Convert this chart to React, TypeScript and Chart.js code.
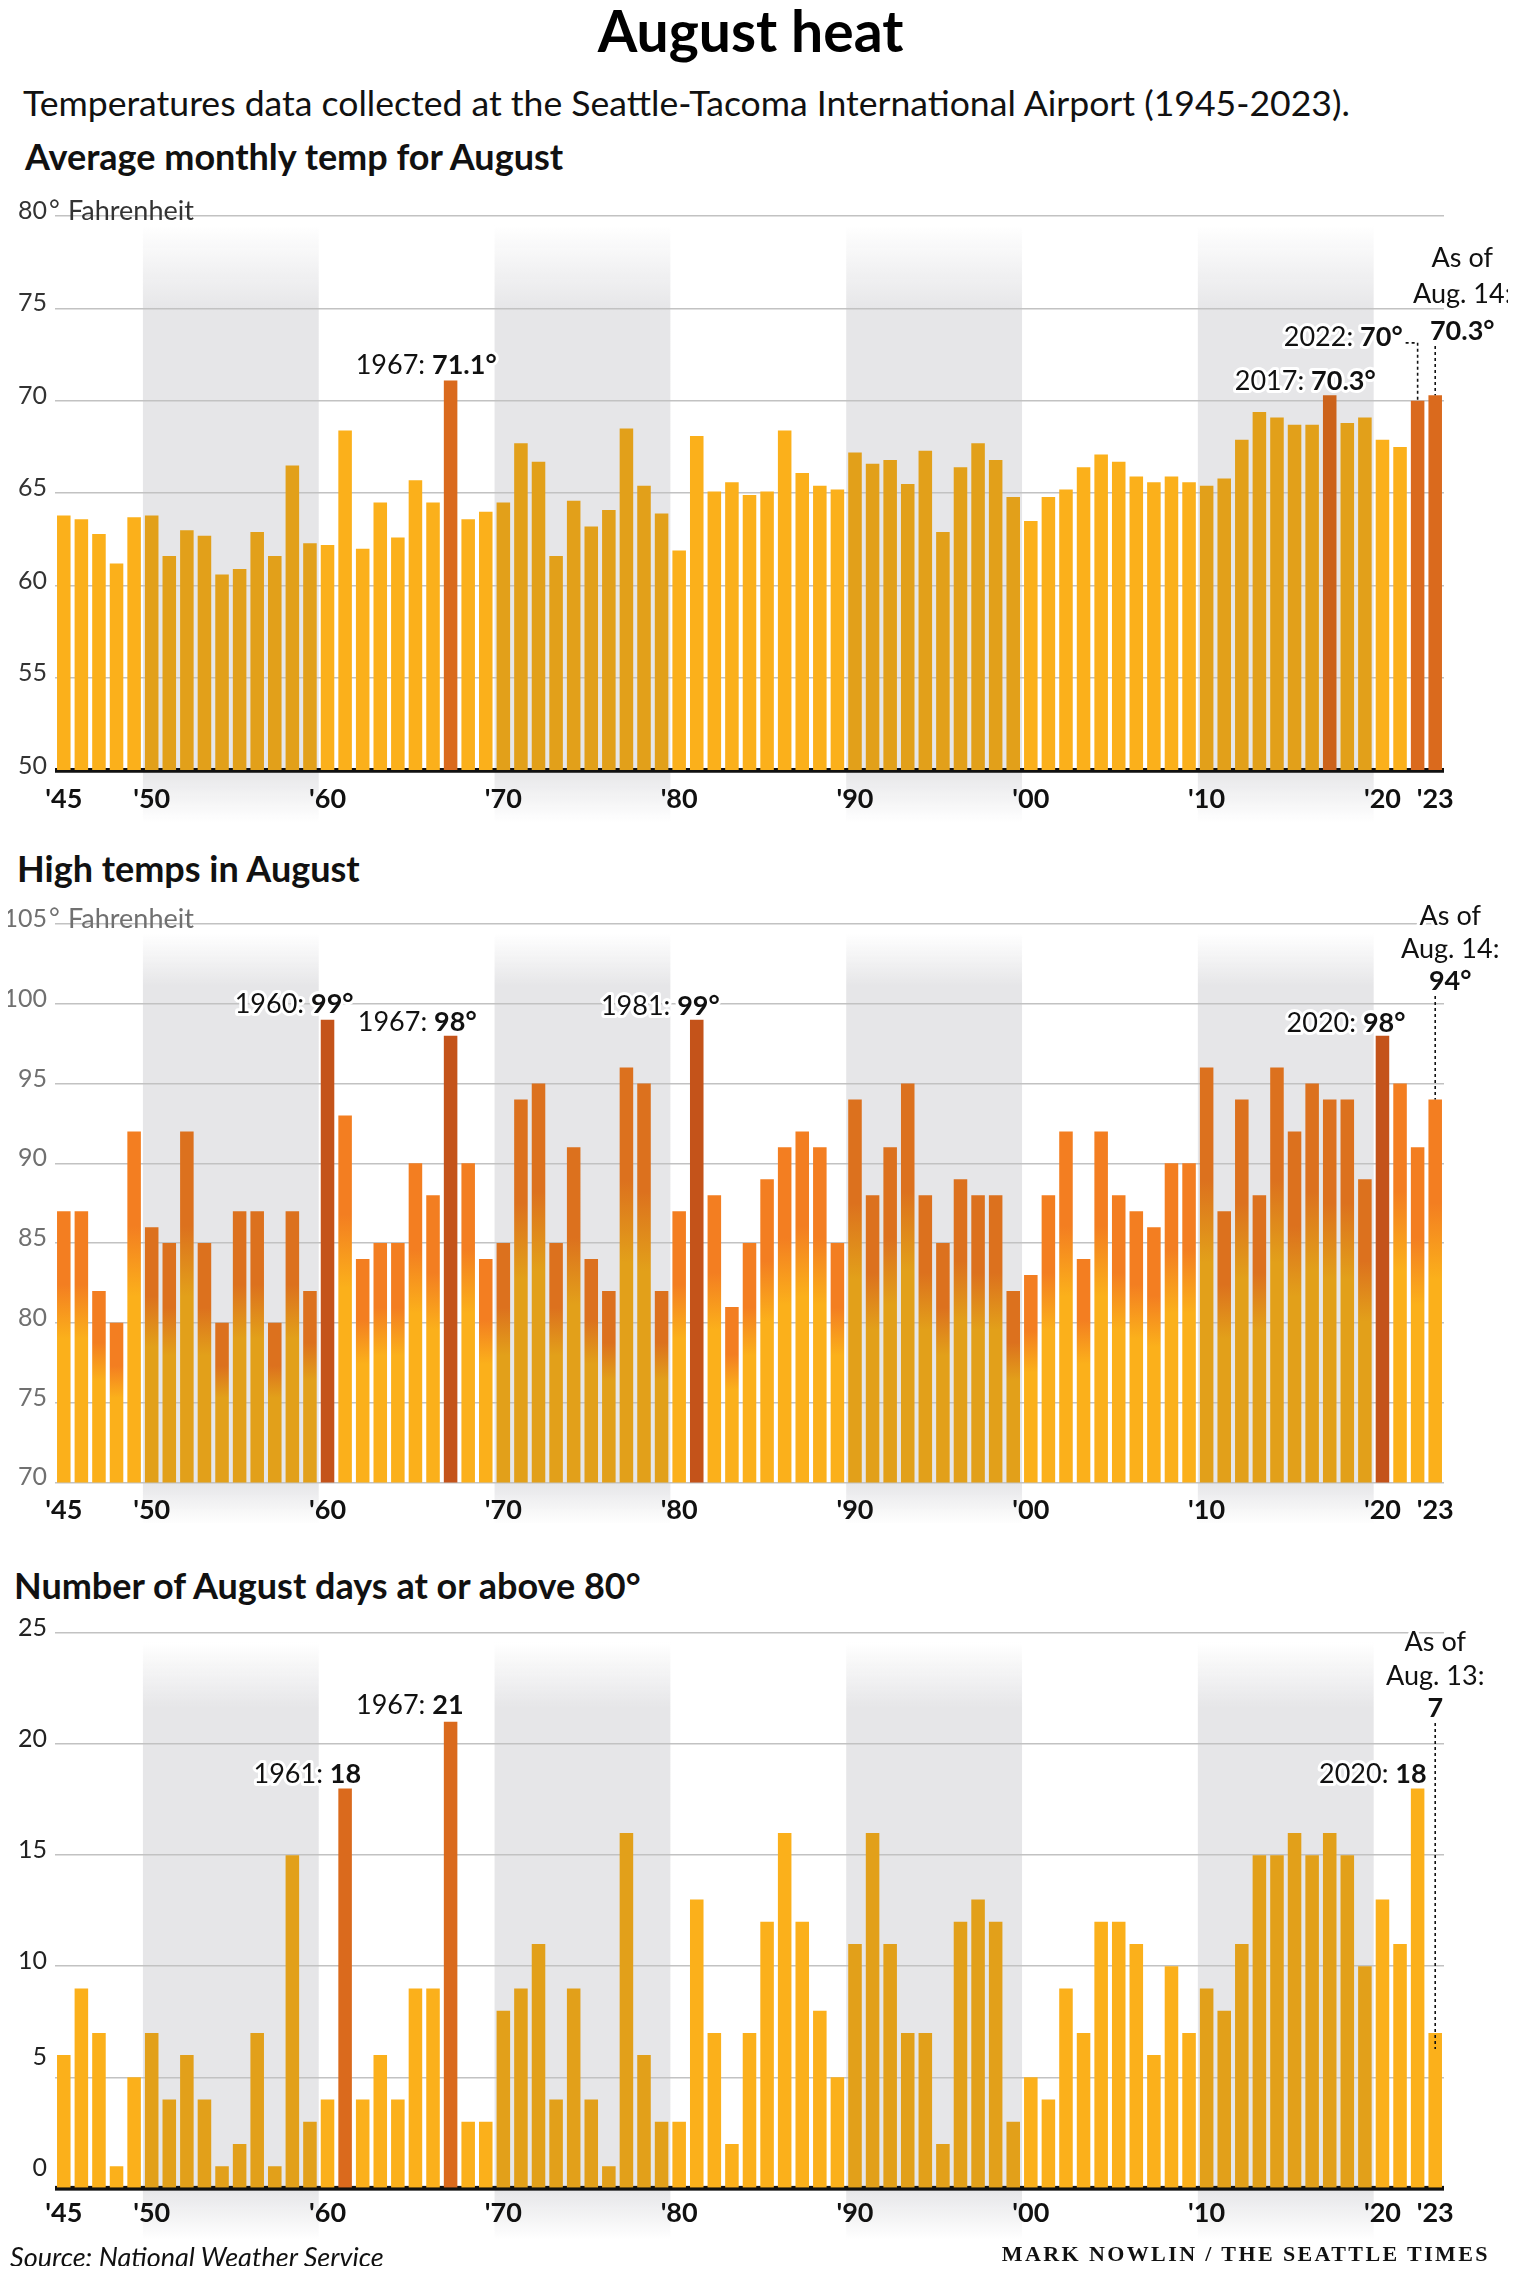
import React, { useEffect, useRef } from "react";
import { Chart, registerables } from "chart.js";

Chart.register(...registerables);

const FONT = 'Lato, "Noto Sans", "DejaVu Sans", sans-serif';
const W = 1516;

// ---------- DATA ----------
const YEARS = [
  1945, 1946, 1947, 1948, 1949,
  1950, 1951, 1952, 1953, 1954, 1955, 1956, 1957, 1958, 1959,
  1960, 1961, 1962, 1963, 1964, 1965, 1966, 1967, 1968, 1969,
  1970, 1971, 1972, 1973, 1974, 1975, 1976, 1977, 1978, 1979,
  1980, 1981, 1982, 1983, 1984, 1985, 1986, 1987, 1988, 1989,
  1990, 1991, 1992, 1993, 1994, 1995, 1996, 1997, 1998, 1999,
  2000, 2001, 2002, 2003, 2004, 2005, 2006, 2007, 2008, 2009,
  2010, 2011, 2012, 2013, 2014, 2015, 2016, 2017, 2018, 2019,
  2020, 2021, 2022, 2023,
];

// Average monthly temperature for August (°F)
const AVG_TEMP = [
  63.8, 63.6, 62.8, 61.2, 63.7,
  63.8, 61.6, 63.0, 62.7, 60.6, 60.9, 62.9, 61.6, 66.5, 62.3,
  62.2, 68.4, 62.0, 64.5, 62.6, 65.7, 64.5, 71.1, 63.6, 64.0,
  64.5, 67.7, 66.7, 61.6, 64.6, 63.2, 64.1, 68.5, 65.4, 63.9,
  61.9, 68.1, 65.1, 65.6, 64.9, 65.1, 68.4, 66.1, 65.4, 65.2,
  67.2, 66.6, 66.8, 65.5, 67.3, 62.9, 66.4, 67.7, 66.8, 64.8,
  63.5, 64.8, 65.2, 66.4, 67.1, 66.7, 65.9, 65.6, 65.9, 65.6,
  65.4, 65.8, 67.9, 69.4, 69.1, 68.7, 68.7, 70.3, 68.8, 69.1,
  67.9, 67.5, 70.0, 70.3,
];

// High temperature in August (°F)
const HIGH_TEMP = [
  87, 87, 82, 80, 92,
  86, 85, 92, 85, 80, 87, 87, 80, 87, 82,
  99, 93, 84, 85, 85, 90, 88, 98, 90, 84,
  85, 94, 95, 85, 91, 84, 82, 96, 95, 82,
  87, 99, 88, 81, 85, 89, 91, 92, 91, 85,
  94, 88, 91, 95, 88, 85, 89, 88, 88, 82,
  83, 88, 92, 84, 92, 88, 87, 86, 90, 90,
  96, 87, 94, 88, 96, 92, 95, 94, 94, 89,
  98, 95, 91, 94,
];

// Number of August days at or above 80°
const HOT_DAYS = [
  6, 9, 7, 1, 5,
  7, 4, 6, 4, 1, 2, 7, 1, 15, 3,
  4, 18, 4, 6, 4, 9, 9, 21, 3, 3,
  8, 9, 11, 4, 9, 4, 1, 16, 6, 3,
  3, 13, 7, 2, 7, 12, 16, 12, 8, 5,
  11, 16, 11, 7, 7, 2, 12, 13, 12, 3,
  5, 4, 9, 7, 12, 12, 11, 6, 10, 7,
  9, 8, 11, 15, 15, 16, 15, 16, 15, 10,
  13, 11, 18, 7,
];

const TICK_YEARS = [1945, 1950, 1960, 1970, 1980, 1990, 2000, 2010, 2020, 2023];
const TICK_TEXT = ["'45", "'50", "'60", "'70", "'80", "'90", "'00", "'10", "'20", "'23"];

const BAND_RANGES = [
  [1950, 1959],
  [1970, 1979],
  [1990, 1999],
  [2010, 2019],
];

const AVG_HIGHLIGHT = [1967, 2017, 2022, 2023];
const HIGH_HIGHLIGHT = [1960, 1967, 1981, 2020];
const DAYS_HIGHLIGHT = [1961, 1967];

// y tick values that sit raised above their gridline in the days chart
const DAYS_RAISED_TICKS = [0, 5];

// ---------- STYLE ----------
const YELLOW = "#FBB01B";
const YELLOW_B = "#E2A01A";
const ORANGE = "#F37E21";
const ORANGE_B = "#DC711E";
const HL_A = "#DA6A1D";
const HL_A_B = "#CC631B";
const HL_H = "#C4531A";
const BAND_RGB = "230,230,232";

const inBand = (year: number) => BAND_RANGES.some(([s, e]) => year >= s && year <= e);

const flatColors = (hl: number[]) =>
  YEARS.map((y) => {
    const b = inBand(y);
    if (hl.includes(y)) return b ? HL_A_B : HL_A;
    return b ? YELLOW_B : YELLOW;
  });

const highColor = (ctx: any) => {
  const i = ctx.dataIndex;
  if (i === undefined) return ORANGE;
  const year = YEARS[i];
  if (HIGH_HIGHLIGHT.includes(year)) return HL_H;
  const b = inBand(year);
  const top = b ? ORANGE_B : ORANGE;
  const bot = b ? YELLOW_B : YELLOW;
  const chart = ctx.chart;
  const y = chart.scales && chart.scales.y;
  if (!chart.chartArea || !y) return top;
  const pt = y.getPixelForValue(HIGH_TEMP[i]);
  const pb = y.getPixelForValue(y.min);
  if (!isFinite(pt) || !isFinite(pb) || pb - pt < 1) return top;
  const g = chart.ctx.createLinearGradient(0, pt, 0, pb);
  g.addColorStop(0, top);
  g.addColorStop(0.27, top);
  g.addColorStop(0.47, bot);
  g.addColorStop(1, bot);
  return g;
};

type Note = { year: number; prefix: string; bold: string; dx: number; dy: number; leader?: boolean };
type AsOf = { year: number; lines: string[]; bold: string; cx: number; baselines: number[]; leaderExtra: number };
type Decor = {
  fadeTop: number;
  fadeBottom: number;
  blackAxis: boolean;
  unit: boolean;
  tickColor: string;
  raised: number[];
  notes: Note[];
  asOf: AsOf;
};

const ANN_SIZE = 27;

function drawRich(ctx: CanvasRenderingContext2D, parts: { t: string; b: boolean }[], x: number, base: number, align: string) {
  const fonts = parts.map((p) => `${p.b ? "bold " : ""}${ANN_SIZE}px ${FONT}`);
  const widths = parts.map((p, i) => {
    ctx.font = fonts[i];
    return ctx.measureText(p.t).width;
  });
  const total = widths.reduce((a, b) => a + b, 0);
  const start = align === "right" ? x - total : align === "center" ? x - total / 2 : x;
  ctx.textAlign = "left";
  ctx.textBaseline = "alphabetic";
  ctx.lineJoin = "round";
  ctx.strokeStyle = "#fff";
  ctx.lineWidth = 6;
  let cx = start;
  parts.forEach((p, i) => {
    ctx.font = fonts[i];
    ctx.strokeText(p.t, cx, base);
    cx += widths[i];
  });
  ctx.fillStyle = "#111";
  cx = start;
  parts.forEach((p, i) => {
    ctx.font = fonts[i];
    ctx.fillText(p.t, cx, base);
    cx += widths[i];
  });
  return { left: start, right: start + total };
}

function dotted(ctx: CanvasRenderingContext2D, pts: number[][]) {
  ctx.save();
  ctx.strokeStyle = "#111";
  ctx.lineWidth = 1.6;
  ctx.setLineDash([3, 3]);
  ctx.beginPath();
  ctx.moveTo(pts[0][0], pts[0][1]);
  for (let k = 1; k < pts.length; k++) ctx.lineTo(pts[k][0], pts[k][1]);
  ctx.stroke();
  ctx.restore();
}

function makeDecor(decor: Decor, values: number[]) {
  return {
    id: "decor",
    beforeDraw(chart: any) {
      const { ctx, chartArea: a } = chart;
      const x = chart.scales.x;
      const pitch = x.getPixelForValue(1) - x.getPixelForValue(0);
      const H = a.bottom + decor.fadeBottom - a.top;
      ctx.save();
      for (const [s, e] of BAND_RANGES) {
        const x0 = x.getPixelForValue(YEARS.indexOf(s)) - pitch / 2;
        const x1 = x.getPixelForValue(YEARS.indexOf(e)) + pitch / 2;
        const g = ctx.createLinearGradient(0, a.top, 0, a.top + H);
        g.addColorStop(0, `rgba(${BAND_RGB},0)`);
        g.addColorStop(0.015, `rgba(${BAND_RGB},0)`);
        g.addColorStop(decor.fadeTop / H, `rgba(${BAND_RGB},1)`);
        g.addColorStop((a.bottom - a.top) / H, `rgba(${BAND_RGB},1)`);
        g.addColorStop(1, `rgba(${BAND_RGB},0)`);
        ctx.fillStyle = g;
        ctx.fillRect(x0, a.top, x1 - x0, H);
      }
      ctx.restore();
    },
    beforeDatasetsDraw(chart: any) {
      if (!decor.blackAxis) return;
      const { ctx, chartArea: a } = chart;
      ctx.save();
      ctx.fillStyle = "#111";
      ctx.fillRect(a.left, a.bottom - 2.5, a.right - a.left, 4.5);
      ctx.restore();
    },
    afterDatasetsDraw(chart: any) {
      const { ctx, chartArea: a } = chart;
      const x = chart.scales.x;
      const y = chart.scales.y;
      ctx.save();
      if (decor.blackAxis) {
        ctx.fillStyle = "#111";
        ctx.fillRect(a.left, a.bottom - 0.5, a.right - a.left, 2.5);
      }
      if (decor.unit) {
        const yy = y.getPixelForValue(y.max) - 5;
        ctx.fillStyle = decor.tickColor;
        ctx.textBaseline = "middle";
        ctx.textAlign = "left";
        ctx.font = `26px ${FONT}`;
        ctx.fillText("°", 49, yy);
        ctx.font = `27px ${FONT}`;
        ctx.fillText("Fahrenheit", 68, yy);
      }
      for (const n of decor.notes) {
        const i = YEARS.indexOf(n.year);
        const bx = x.getPixelForValue(i);
        const by = y.getPixelForValue(values[i]);
        const base = by - n.dy;
        const r = drawRich(ctx, [{ t: n.prefix, b: false }, { t: n.bold, b: true }], bx + n.dx, base, "right");
        if (n.leader) {
          dotted(ctx, [
            [r.right + 3, base - 3],
            [bx, base - 3],
            [bx, by],
          ]);
        }
      }
      const ao = decor.asOf;
      const i = YEARS.indexOf(ao.year);
      const bx = x.getPixelForValue(i);
      const by = y.getPixelForValue(values[i]);
      const cx = bx + ao.cx;
      ao.lines.forEach((l, k) => drawRich(ctx, [{ t: l, b: false }], cx, a.top + ao.baselines[k], "center"));
      const lastBase = a.top + ao.baselines[ao.baselines.length - 1];
      drawRich(ctx, [{ t: ao.bold, b: true }], cx, lastBase, "center");
      dotted(ctx, [
        [bx, lastBase + 6],
        [bx, by + ao.leaderExtra],
      ]);
      ctx.restore();
    },
  };
}

type PanelProps = {
  top: number;
  height: number;
  padTop: number;
  xHeight: number;
  xPad: number;
  values: number[];
  colors: any;
  min: number;
  max: number;
  decor: Decor;
};

function Panel(p: PanelProps) {
  const ref = useRef<HTMLCanvasElement>(null);
  useEffect(() => {
    const chart = new Chart(ref.current as HTMLCanvasElement, {
      type: "bar",
      data: {
        labels: YEARS.map(String),
        datasets: [
          {
            data: p.values,
            backgroundColor: p.colors,
            borderWidth: 0,
            barPercentage: 0.77,
            categoryPercentage: 1,
          },
        ],
      },
      options: {
        responsive: false,
        animation: false,
        events: [],
        devicePixelRatio: 1,
        layout: { padding: { top: p.padTop, right: W - 1444, left: 0, bottom: 0 } },
        plugins: { legend: { display: false }, tooltip: { enabled: false } },
        scales: {
          x: {
            type: "category",
            offset: true,
            grid: { display: false },
            border: { display: false },
            ticks: {
              autoSkip: false,
              maxRotation: 0,
              minRotation: 0,
              padding: p.xPad,
              color: "#111",
              font: { family: FONT, size: 27, weight: "bold" },
              callback: (_v: any, idx: number) => {
                const k = TICK_YEARS.indexOf(YEARS[idx]);
                return k >= 0 ? TICK_TEXT[k] : "";
              },
            },
            afterFit: (s: any) => {
              s.height = p.xHeight;
              s.paddingLeft = 0;
              s.paddingRight = 0;
            },
          },
          y: {
            min: p.min,
            max: p.max,
            grid: { color: "#C2C2C2", lineWidth: 1.6, drawTicks: false },
            border: { display: false },
            ticks: {
              stepSize: 5,
              padding: 8,
              labelOffset: -5,
              color: p.decor.tickColor,
              font: { family: FONT, size: 25 },
              callback: (v: any) => (p.decor.raised.includes(v) ? [String(v), " "] : String(v)),
            },
            afterFit: (s: any) => {
              s.width = 55;
              s.paddingTop = 0;
              s.paddingBottom = 0;
            },
          },
        },
      } as any,
      plugins: [makeDecor(p.decor, p.values)],
    } as any);
    return () => chart.destroy();
  }, []);
  return (
    <canvas
      ref={ref}
      width={W}
      height={p.height}
      style={{ position: "absolute", left: 0, top: p.top, width: W, height: p.height, display: "block" }}
    />
  );
}

const avgDecor: Decor = {
  fadeTop: 95,
  fadeBottom: 52,
  blackAxis: true,
  unit: true,
  tickColor: "#333",
  raised: [],
  notes: [
    { year: 1967, prefix: "1967: ", bold: "71.1°", dx: 46, dy: 7 },
    { year: 2017, prefix: "2017: ", bold: "70.3°", dx: 46, dy: 5 },
    { year: 2022, prefix: "2022: ", bold: "70°", dx: -15, dy: 55, leader: true },
  ],
  asOf: { year: 2023, lines: ["As of", "Aug. 14:"], bold: "70.3°", cx: 27, baselines: [51, 87, 124], leaderExtra: 0 },
};

const highDecor: Decor = {
  fadeTop: 62,
  fadeBottom: 42,
  blackAxis: false,
  unit: true,
  tickColor: "#707070",
  raised: [],
  notes: [
    { year: 1960, prefix: "1960: ", bold: "99°", dx: 26, dy: 7 },
    { year: 1967, prefix: "1967: ", bold: "98°", dx: 26, dy: 5 },
    { year: 1981, prefix: "1981: ", bold: "99°", dx: 23, dy: 5 },
    { year: 2020, prefix: "2020: ", bold: "98°", dx: 23, dy: 4 },
  ],
  asOf: { year: 2023, lines: ["As of", "Aug. 14:"], bold: "94°", cx: 15, baselines: [1, 34, 66], leaderExtra: 0 },
};

const daysDecor: Decor = {
  fadeTop: 75,
  fadeBottom: 52,
  blackAxis: true,
  unit: false,
  tickColor: "#222",
  raised: DAYS_RAISED_TICKS,
  notes: [
    { year: 1961, prefix: "1961: ", bold: "18", dx: 16, dy: 6 },
    { year: 1967, prefix: "1967: ", bold: "21", dx: 13, dy: 8 },
    { year: 2022, prefix: "2020: ", bold: "18", dx: 9, dy: 6 },
  ],
  asOf: { year: 2023, lines: ["As of", "Aug. 13:"], bold: "7", cx: 0, baselines: [18, 52, 84], leaderExtra: 16 },
};

const txt = (extra: React.CSSProperties): React.CSSProperties => ({
  position: "absolute",
  margin: 0,
  lineHeight: 1,
  whiteSpace: "nowrap",
  color: "#111",
  fontFamily: FONT,
  ...extra,
});

export default function App() {
  return (
    <div style={{ position: "relative", width: W, height: 2274, margin: -8, background: "#fff", overflow: "hidden" }}>
      <div style={txt({ top: 2, left: 0, width: 1501, textAlign: "center", fontSize: 57, fontWeight: 700, color: "#000" })}>
        August heat
      </div>
      <div style={txt({ top: 85, left: 23, fontSize: 35.6 })}>
        Temperatures data collected at the Seattle-Tacoma International Airport (1945-2023).
      </div>
      <div style={txt({ top: 138, left: 25, fontSize: 36, fontWeight: 700 })}>Average monthly temp for August</div>
      <div style={txt({ top: 850, left: 17, fontSize: 36, fontWeight: 700 })}>High temps in August</div>
      <div style={txt({ top: 1567, left: 14, fontSize: 36, fontWeight: 700 })}>Number of August days at or above 80°</div>

      <Panel top={185} height={650} padTop={31} xHeight={64.5} xPad={5} values={AVG_TEMP} colors={flatColors(AVG_HIGHLIGHT)} min={50} max={80} decor={avgDecor} />
      <Panel top={890} height={650} padTop={34} xHeight={57.6} xPad={4} values={HIGH_TEMP} colors={highColor} min={70} max={105} decor={highDecor} />
      <Panel top={1610} height={640} padTop={23} xHeight={61.6} xPad={1} values={HOT_DAYS} colors={flatColors(DAYS_HIGHLIGHT)} min={0} max={25} decor={daysDecor} />

      <div style={txt({ top: 2243, left: 10, fontSize: 27, fontStyle: "italic" })}>Source: National Weather Service</div>
      <div
        style={txt({
          top: 2243,
          right: 26,
          fontSize: 22,
          fontWeight: 700,
          letterSpacing: 2.4,
          fontFamily: '"Liberation Serif", "DejaVu Serif", serif',
        })}
      >
        MARK NOWLIN / THE SEATTLE TIMES
      </div>
    </div>
  );
}
